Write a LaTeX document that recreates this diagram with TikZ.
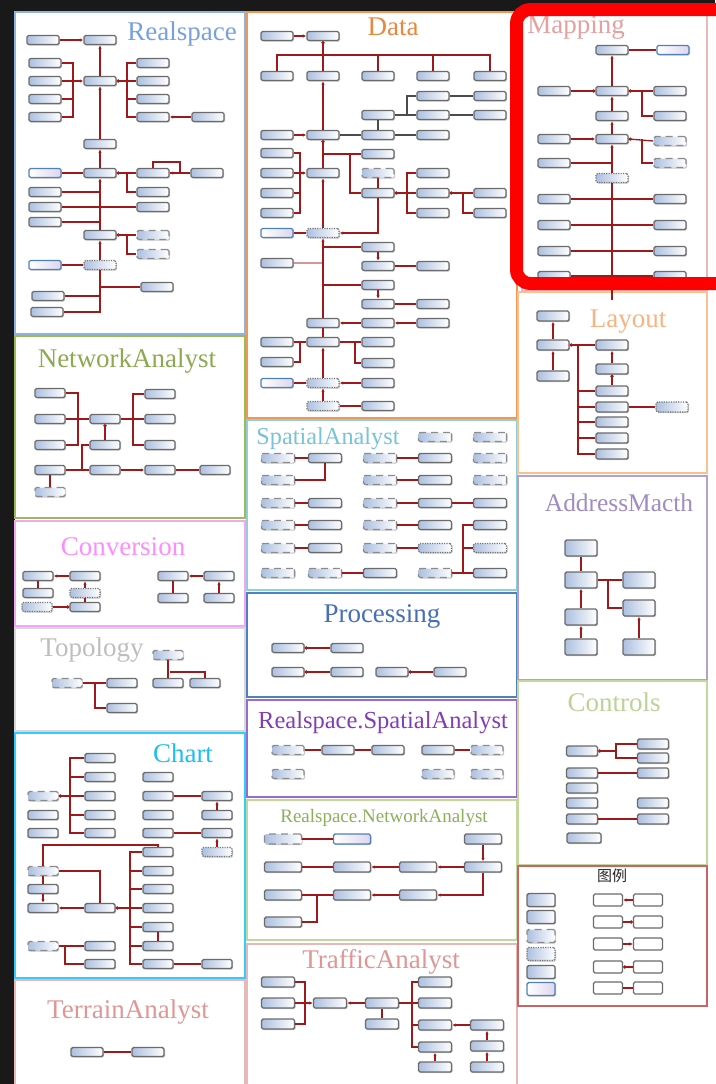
\documentclass[tikz,border=0pt]{standalone}
\usepackage{fontspec}
\setmainfont{Liberation Serif}
\newfontfamily\cjkfont{Noto Sans CJK SC}
\usepackage{tikz}
\usetikzlibrary{arrows.meta,shadows}
\definecolor{ClsBlue}{RGB}{172,192,224}
\definecolor{EnumBlue}{RGB}{79,129,189}
\definecolor{EnumLav}{RGB}{222,214,238}
\definecolor{RelRed}{RGB}{158,26,26}
\definecolor{HiRed}{RGB}{255,0,0}
\definecolor{RsLine}{RGB}{141,179,226}
\definecolor{RsTitle}{RGB}{120,160,225}
\definecolor{DataLine}{RGB}{242,150,80}
\definecolor{DataTitle}{RGB}{236,134,60}
\definecolor{MapLine}{RGB}{230,185,184}
\definecolor{MapTitle}{RGB}{230,160,160}
\definecolor{LayLine}{RGB}{250,192,144}
\definecolor{LayTitle}{RGB}{247,180,130}
\definecolor{AddrLine}{RGB}{178,162,199}
\definecolor{AddrTitle}{RGB}{160,140,190}
\definecolor{CtrlLine}{RGB}{195,214,155}
\definecolor{CtrlTitle}{RGB}{190,210,150}
\definecolor{LegLine}{RGB}{200,100,100}
\definecolor{NetLine}{RGB}{155,187,89}
\definecolor{NetTitle}{RGB}{140,170,80}
\definecolor{ConvLine}{RGB}{245,165,245}
\definecolor{ConvTitle}{RGB}{255,140,255}
\definecolor{TopoLine}{RGB}{215,215,215}
\definecolor{TopoTitle}{RGB}{190,190,190}
\definecolor{ChartLine}{RGB}{51,204,255}
\definecolor{ChartTitle}{RGB}{30,190,240}
\definecolor{TerrLine}{RGB}{230,185,184}
\definecolor{TerrTitle}{RGB}{225,150,150}
\definecolor{SpatLine}{RGB}{146,205,220}
\definecolor{SpatTitle}{RGB}{120,195,215}
\definecolor{ProcLine}{RGB}{79,129,189}
\definecolor{ProcTitle}{RGB}{70,110,185}
\definecolor{RsSpLine}{RGB}{150,110,200}
\definecolor{RsSpTitle}{RGB}{130,60,180}
\definecolor{RsNetLine}{RGB}{195,214,155}
\definecolor{RsNetTitle}{RGB}{140,175,90}
\tikzset{
  panel/.style={line width=1.5pt,fill=white},
  ptitle/.style={anchor=base,inner sep=0pt,font=\fontsize{27}{30}\selectfont},
  cls/.style={draw=black!58,line width=1.4pt,rounded corners=1.5pt,
    left color=ClsBlue,right color=white,minimum width=32pt,minimum height=9pt,
    inner sep=0pt,drop shadow={shadow xshift=1.1pt,shadow yshift=-1.1pt,opacity=.45}},
  clsdash/.style={cls,draw=black!45,dash pattern=on 7pt off 5pt},
  clsdot/.style={cls,draw=black!55,dash pattern=on 1.2pt off 1.2pt},
  clsenum/.style={cls,draw=EnumBlue,left color=white,right color=EnumLav},
  lgbox/.style={draw=black!58,line width=1.3pt,rounded corners=1.5pt,fill=white,
    minimum width=29pt,minimum height=12pt,inner sep=0pt},
  rel/.style={draw=RelRed,line width=1.3pt},
  relk/.style={draw=black!70,line width=1.3pt},
  arr/.style={-{Latex[length=3.5pt,width=3.5pt]}},
  dotb/.style={{Circle[length=3.2pt]}-},
  dote/.style={-{Circle[length=3.2pt]}},
}

\begin{document}
\begin{tikzpicture}[x=1pt,y=-1pt]
\useasboundingbox (0,0) rectangle (715,1084);
\fill[black!90] (0,0) rectangle (715,1084);
\fill[white] (15,12) rectangle (715,1084);

% panels
\draw[panel,draw=RsLine] (15,12) rectangle (245,334);
\draw[panel,draw=NetLine] (15,336) rectangle (245,518);
\draw[panel,draw=ConvLine] (15,521) rectangle (245,626);
\draw[panel,draw=TopoLine] (15,628) rectangle (245,731);
\draw[panel,draw=ChartLine] (15,733) rectangle (245,978);
\draw[panel,draw=TerrLine] (15,980) rectangle (245,1090);
\draw[panel,draw=DataLine] (247,12) rectangle (517,418);
\draw[panel,draw=SpatLine] (247,420) rectangle (517,590);
\draw[panel,draw=ProcLine] (247,593) rectangle (517,697);
\draw[panel,draw=RsSpLine] (247,700) rectangle (517,797);
\draw[panel,draw=RsNetLine] (247,800) rectangle (517,940);
\draw[panel,draw=TerrLine] (247,944) rectangle (517,1090);
\draw[panel,draw=MapLine] (522,12) rectangle (707,291);
\draw[panel,draw=LayLine] (518,292) rectangle (707,473);
\draw[panel,draw=AddrLine] (518,476) rectangle (707,680);
\draw[panel,draw=CtrlLine] (518,681) rectangle (707,865);
\draw[panel,draw=LegLine] (518,866) rectangle (707,1006);

% titles
\node[ptitle,text=RsTitle] (tRs) at (182,40) {Realspace};
\node[ptitle,text=DataTitle] (tData) at (393,35) {Data};
\node[ptitle,text=MapTitle] (tMap) at (576,33) {Mapping};
\node[ptitle,text=LayTitle] (tLay) at (628,327) {Layout};
\node[ptitle,text=AddrTitle,font=\fontsize{25.4}{28}\selectfont] (tAddr) at (619,511) {AddressMacth};
\node[ptitle,text=CtrlTitle] (tCtrl) at (614,711) {Controls};
\node[ptitle,text=NetTitle] (tNet) at (127,367) {NetworkAnalyst};
\node[ptitle,text=ConvTitle] (tConv) at (123,555) {Conversion};
\node[ptitle,text=TopoTitle] (tTopo) at (92,656) {Topology};
\node[ptitle,text=ChartTitle] (tChart) at (183,762) {Chart};
\node[ptitle,text=TerrTitle] (tTerr) at (128,1018) {TerrainAnalyst};
\node[ptitle,text=SpatTitle,font=\fontsize{24.3}{27}\selectfont] (tSpat) at (328,444) {SpatialAnalyst};
\node[ptitle,text=ProcTitle] (tProc) at (382,622) {Processing};
\node[ptitle,text=RsSpTitle,font=\fontsize{24.5}{27}\selectfont] (tRsSp) at (383,728) {Realspace.SpatialAnalyst};
\node[ptitle,text=RsNetTitle,font=\fontsize{19}{22}\selectfont] (tRsNet) at (384,822) {Realspace.NetworkAnalyst};
\node[ptitle,text=TerrTitle] (tTraf) at (381,968) {TrafficAnalyst};
\node[ptitle,font=\cjkfont\fontsize{15}{17}\selectfont,text=black!85] (tLeg) at (612,881) {图例};

% Realspace
\node[cls] (rs1) at (43,40) {};
\node[cls] (rs2) at (100,40) {};
\node[cls] (rs3) at (100,81) {};
\node[cls] (rsa1) at (45,63) {};
\node[cls] (rsa2) at (45,81) {};
\node[cls] (rsa3) at (45,99) {};
\node[cls] (rsa4) at (45,117) {};
\node[cls] (rsb1) at (153,63) {};
\node[cls] (rsb2) at (153,81) {};
\node[cls] (rsb3) at (153,99) {};
\node[cls] (rsb4) at (153,117) {};
\node[cls] (rsc) at (208,117) {};
\node[cls] (rs4) at (100,144) {};
\node[cls] (rs5) at (100,173) {};
\node[clsenum] (rse1) at (45,173) {};
\node[cls] (rsd1) at (153,173) {};
\node[cls] (rsd2) at (207,173) {};
\node[cls] (rsd3) at (153,192) {};
\node[cls] (rsf1) at (45,192) {};
\node[cls] (rsf2) at (45,207) {};
\node[cls] (rsf3) at (45,222) {};
\node[cls] (rsd4) at (153,207) {};
\node[cls] (rs6) at (100,235) {};
\node[clsdash] (rsg1) at (153,235) {};
\node[clsdash] (rsg2) at (153,254) {};
\node[clsdot] (rs7) at (100,265) {};
\node[clsenum] (rse2) at (45,265) {};
\node[cls] (rsh1) at (157,287) {};
\node[cls] (rsh2) at (48,296) {};
\node[cls] (rsh3) at (47,312) {};
\coordinate (rsA) at (73,81);
\coordinate (rsB) at (127,81);
\coordinate (rsD) at (127,173);
\coordinate (rsL) at (180,162);
\coordinate (rsG) at (127,235);
\draw[rel,arr] (rs1.east) -- (rs2.west);
\draw[rel,arr] (rs3.north) -- (rs2.south);
\draw[rel] (rsa1.east) -| (rsA);
\draw[rel] (rsa3.east) -| (rsA);
\draw[rel] (rsa4.east) -| (rsA);
\draw[rel,arr] (rsa2.east) -- (rs3.west);
\draw[rel,dotb] (rs3.east) -- (rsb2.west);
\draw[rel] (rsB) |- (rsb1.west);
\draw[rel] (rsB) |- (rsb3.west);
\draw[rel] (rsB) |- (rsb4.west);
\draw[rel,arr] (rsc.west) -- (rsb4.east);
\draw[rel,arr] (rs4.north) -- (rs3.south);
\draw[rel,arr] (rs5.north) -- (rs4.south);
\draw[rel] (rse1.east) -- (rs5.west);
\draw[rel,dotb] (rs5.east) -- (rsd1.west);
\draw[rel] (rsD) |- (rsd3.west);
\draw[rel,arr] (rsd2.west) -- (rsd1.east);
\draw[rel] (rsd1.north) |- (rsL) |- (rsd1.east);
\draw[rel,arr] (rs6.north) -- (rs5.south);
\draw[rel] (rsf1.east) -- (rsf1 -| rs6);
\draw[rel] (rsf2.east) -- (rsd4.west);
\draw[rel] (rsf3.east) -- (rsf3 -| rs6);
\draw[rel,dotb] (rs6.east) -- (rsg1.west);
\draw[rel] (rsG) |- (rsg2.west);
\draw[rel,arr] (rs7.north) -- (rs6.south);
\draw[rel] (rse2.east) -- (rs7.west);
\draw[rel] (rs7.south) |- (rsh3.east);
\draw[rel] (rsh2.east) -- (rsh2 -| rs7);
\draw[rel] (rsh1.west) -- (rsh1 -| rs7);

% Data
\node[cls] (dt1) at (277,36) {};
\node[cls] (dt2) at (323,36) {};
\node[cls] (dt3a) at (277,76) {};
\node[cls] (dt3b) at (323,76) {};
\node[cls] (dt3c) at (378,76) {};
\node[cls] (dt3d) at (433,76) {};
\node[cls] (dt3e) at (490,76) {};
\node[cls] (dt4) at (323,135) {};
\node[cls] (dt5) at (277,135) {};
\node[cls] (dt6) at (378,135) {};
\node[cls] (dt7) at (378,115) {};
\node[cls] (dt8) at (433,135) {};
\node[cls] (dt9a) at (433,96) {};
\node[cls] (dt9b) at (433,115) {};
\node[cls] (dt9c) at (490,96) {};
\node[cls] (dt9d) at (490,115) {};
\node[cls] (dt10) at (323,173) {};
\node[cls] (dtl1) at (277,153) {};
\node[cls] (dtl2) at (277,173) {};
\node[cls] (dtl3) at (277,193) {};
\node[cls] (dtl4) at (277,213) {};
\node[cls] (dtm1) at (378,154) {};
\node[clsdash] (dtm2) at (378,173) {};
\node[cls] (dtm3) at (378,193) {};
\node[cls] (dtn1) at (433,173) {};
\node[cls] (dtn2) at (433,193) {};
\node[cls] (dtn3) at (433,213) {};
\node[cls] (dto1) at (490,193) {};
\node[cls] (dto2) at (490,213) {};
\node[clsdot] (dt11) at (323,233) {};
\node[clsenum] (dte1) at (277,233) {};
\node[cls] (dtp1) at (378,247) {};
\node[cls] (dtp2) at (378,266) {};
\node[cls] (dtp3) at (433,266) {};
\node[cls] (dtq) at (277,263) {};
\node[cls] (dtp4) at (378,285) {};
\node[cls] (dtp5) at (378,304) {};
\node[cls] (dtp6) at (433,304) {};
\node[cls] (dt12) at (323,323) {};
\node[cls] (dtr1) at (378,323) {};
\node[cls] (dtr2) at (433,323) {};
\node[cls] (dt13) at (323,342) {};
\node[cls] (dts1) at (277,342) {};
\node[cls] (dts2) at (277,362) {};
\node[cls] (dtt1) at (378,342) {};
\node[cls] (dtt2) at (378,363) {};
\node[clsdot] (dt14) at (323,383) {};
\node[clsenum] (dte2) at (277,383) {};
\node[cls] (dtu) at (378,383) {};
\node[clsdot] (dt15) at (323,406) {};
\node[cls] (dtv) at (378,406) {};
\coordinate (dtB) at (300,55);
\coordinate (dtJ) at (407,115);
\coordinate (dtK) at (323,154);
\coordinate (dtK2) at (350,154);
\coordinate (dtL) at (300,173);
\coordinate (dtN) at (407,193);
\coordinate (dtO) at (463,193);
\coordinate (dtS) at (300,342);
\coordinate (dtT) at (355,342);
\draw[rel,arr] (dt1.east) -- (dt2.west);
\draw[rel,dote] (dt3b.north) -- (dt2.south);
\draw[rel] (dt3a.north) |- (dt3e.north |- dtB) -- (dt3e.north);
\draw[rel] (dt3c.north) -- (dt3c.north |- dtB);
\draw[rel] (dt3d.north) -- (dt3d.north |- dtB);
\draw[rel,arr] (dt4.north) -- (dt3b.south);
\draw[rel,arr] (dt5.east) -- (dt4.west);
\draw[relk] (dt4.east) -- (dt6.west);
\draw[relk] (dt6.north) -- (dt7.south);
\draw[relk] (dt6.east) -- (dt8.west);
\draw[relk] (dt7.east) -- (dt9b.west);
\draw[relk] (dtJ) |- (dt9a.west);
\draw[relk] (dt9a.east) -- (dt9c.west);
\draw[relk] (dt9b.east) -- (dt9d.west);
\draw[rel,dote] (dt10.north) -- (dt4.south);
\draw[rel] (dtK) -- (dtm1.west);
\draw[rel] (dtK2) |- (dtm3.west);
\draw[rel] (dtl1.east) -| (dtL);
\draw[rel] (dtl3.east) -| (dtL);
\draw[rel] (dtl4.east) -| (dtL);
\draw[rel,arr] (dtl2.east) -- (dt10.west);
\draw[rel] (dtm2.south) -- (dtm3.north);
\draw[rel,arr] (dtm3.south) |- (dt11.east);
\draw[rel,dote] (dtn2.west) -- (dtm3.east);
\draw[rel] (dtn1.west) -| (dtN);
\draw[rel] (dtn3.west) -| (dtN);
\draw[rel,dotb] (dtn2.east) -- (dto1.west);
\draw[rel] (dtO) |- (dto2.west);
\draw[rel,arr] (dt11.north) -- (dt10.south);
\draw[rel] (dte1.east) -- (dt11.west);
\draw[rel,arr] (dt12.north) -- (dt11.south);
\draw[rel] (dtp1.west) -- (dtp1 -| dt11);
\draw[rel,arr] (dtp1.south) -- (dtp2.north);
\draw[rel] (dtp3.west) -- (dtp2.east);
\draw[rel,opacity=.45] (dtq.east) -- (dtq -| dt11);
\draw[rel] (dtp4.west) -- (dtp4 -| dt11);
\draw[rel,arr] (dtp4.south) -- (dtp5.north);
\draw[rel] (dtp6.west) -- (dtp5.east);
\draw[rel,arr] (dtr1.west) -- (dt12.east);
\draw[rel,arr] (dtr2.west) -- (dtr1.east);
\draw[rel] (dt13.north) -- (dt12.south);
\draw[rel] (dts1.east) -- (dt13.west);
\draw[rel] (dts2.east) -| (dtS);
\draw[rel] (dt13.east) -- (dtt1.west);
\draw[rel] (dtT) |- (dtt2.west);
\draw[rel,arr] (dt14.north) -- (dt13.south);
\draw[rel] (dte2.east) -- (dt14.west);
\draw[rel,arr] (dtu.west) -- (dt14.east);
\draw[rel,arr] (dt15.north) -- (dt14.south);
\draw[rel] (dtv.west) -- (dt15.east);

% Mapping
\node[cls] (mp1) at (612,50) {};
\node[clsenum] (mpe) at (673,50) {};
\node[cls] (mp2) at (612,91) {};
\node[cls] (mpa) at (554,91) {};
\node[cls] (mpb1) at (670,91) {};
\node[cls] (mpb2) at (670,116) {};
\node[cls] (mp3) at (612,116) {};
\node[cls] (mp4) at (612,139) {};
\node[cls] (mpc) at (554,139) {};
\node[clsdash] (mpd1) at (670,141) {};
\node[clsdash] (mpd2) at (670,163) {};
\node[cls] (mpf) at (554,163) {};
\node[clsdot] (mp5) at (612,178) {};
\node[cls] (mpg1) at (554,199) {};
\node[cls] (mph1) at (670,199) {};
\node[cls] (mpg2) at (554,225) {};
\node[cls] (mph2) at (670,225) {};
\node[cls] (mpg3) at (554,251) {};
\node[cls] (mph3) at (670,251) {};
\node[cls] (mpg4) at (554,276) {};
\node[cls] (mph4) at (670,276) {};
\coordinate (mpB) at (642,91);
\coordinate (mpD) at (642,139);
\coordinate (mpEnd) at (612,300);
\draw[rel] (mp1.east) -- (mpe.west);
\draw[rel,arr] (mp2.north) -- (mp1.south);
\draw[rel,dotb] (mp2.west) -- (mpa.east);
\draw[rel,dotb] (mp2.east) -- (mpb1.west);
\draw[rel] (mpB) |- (mpb2.west);
\draw[rel,arr] (mp3.north) -- (mp2.south);
\draw[rel,arr] (mp4.north) -- (mp3.south);
\draw[rel,arr] (mpc.east) -- (mp4.west);
\draw[rel,dotb] (mp4.east) -- (mpd1.west);
\draw[rel] (mpD) |- (mpd2.west);
\draw[rel] (mpf.east) -- (mpf -| mp4);
\draw[rel,arr] (mp5.north) -- (mp4.south);
\draw[rel] (mp5.south) -- (mpEnd);
\draw[rel] (mpg1.east) -- (mph1.west);
\draw[rel] (mpg2.east) -- (mph2.west);
\draw[rel] (mpg3.east) -- (mph3.west);
\draw[rel] (mpg4.east) -- (mph4.west);

% Layout
\begin{scope}[cls/.append style={minimum height=10pt}]
\node[cls] (ly1) at (553,316) {};
\node[cls] (ly2) at (553,345) {};
\node[cls] (ly3) at (553,376) {};
\node[cls] (ly4) at (612,345) {};
\node[cls] (ly5) at (612,369) {};
\node[cls] (ly6) at (612,391) {};
\node[cls] (ly7) at (612,407) {};
\node[cls] (ly8) at (612,422) {};
\node[cls] (ly9) at (612,438) {};
\node[cls] (ly10) at (612,454) {};
\node[clsdot] (lyd) at (672,407) {};
\end{scope}
\coordinate (lyB) at (578,345);
\draw[rel,arr] (ly2.north) -- (ly1.south);
\draw[rel,arr] (ly3.north) -- (ly2.south);
\draw[rel,dotb] (ly2.east) -- (ly4.west);
\draw[rel] (lyB) |- (ly6.west);
\draw[rel] (lyB) |- (ly7.west);
\draw[rel] (lyB) |- (ly8.west);
\draw[rel] (lyB) |- (ly9.west);
\draw[rel] (lyB) |- (ly10.west);
\draw[rel,arr] (ly5.north) -- (ly4.south);
\draw[rel,dote] (ly6.north) -- (ly5.south);
\draw[rel] (ly7.east) -- (lyd.west);

% AddressMacth
\begin{scope}[cls/.append style={minimum height=16pt}]
\node[cls] (ad1) at (581,548) {};
\node[cls] (ad2) at (581,580) {};
\node[cls] (ad3) at (581,617) {};
\node[cls] (ad4) at (581,647) {};
\node[cls] (ad5) at (639,580) {};
\node[cls] (ad6) at (639,608) {};
\node[cls] (ad7) at (639,647) {};
\end{scope}
\coordinate (adB) at (608,580);
\draw[rel] (ad2.north) -- (ad1.south);
\draw[rel,arr] (ad3.north) -- (ad2.south);
\draw[rel,arr] (ad4.north) -- (ad3.south);
\draw[rel] (ad2.east) -- (ad5.west);
\draw[rel] (adB) |- (ad6.west);
\draw[rel,arr] (ad7.north) -- (ad6.south);

% Controls
\begin{scope}[cls/.append style={minimum width=31pt,minimum height=10pt}]
\node[cls] (ct1) at (582,751) {};
\node[cls] (ct2) at (653,744) {};
\node[cls] (ct3) at (653,758) {};
\node[cls] (ct4) at (582,773) {};
\node[cls] (ct5) at (653,773) {};
\node[cls] (ct6) at (582,788) {};
\node[cls] (ct7) at (582,803) {};
\node[cls] (ct8) at (653,803) {};
\node[cls] (ct9) at (582,819) {};
\node[cls] (ct10) at (653,819) {};
\node[cls,minimum width=34pt] (ct11) at (584,838) {};
\end{scope}
\coordinate (ctB) at (616,751);
\draw[rel,dotb,line width=1.8pt] (ct1.east) -- (ctB);
\draw[rel] (ctB) |- (ct2.west);
\draw[rel] (ctB) |- (ct3.west);
\draw[rel] (ct4.east) -- (ct5.west);
\draw[rel] (ct9.east) -- (ct10.west);

% legend
\begin{scope}[cls/.append style={minimum width=28pt,minimum height=13pt}]
\node[cls] (lgA1) at (541,900) {};
\node[cls] (lgA2) at (541,917) {};
\node[clsdash] (lgA3) at (541,936) {};
\node[clsdot] (lgA4) at (541,954) {};
\node[cls] (lgA5) at (541,972) {};
\node[clsenum] (lgA6) at (541,989) {};
\end{scope}
\node[lgbox] (lgB1) at (608,900) {};
\node[lgbox] (lgC1) at (648,900) {};
\node[lgbox] (lgB2) at (608,922) {};
\node[lgbox] (lgC2) at (648,922) {};
\node[lgbox] (lgB3) at (608,944) {};
\node[lgbox] (lgC3) at (648,944) {};
\node[lgbox] (lgB4) at (608,967) {};
\node[lgbox] (lgC4) at (648,967) {};
\node[lgbox] (lgB5) at (608,988) {};
\node[lgbox] (lgC5) at (648,988) {};
\draw[rel,arr] (lgC1.west) -- (lgB1.east);
\draw[rel,dote] (lgB2.east) -- (lgC2.west);
\draw[rel,arr] (lgB3.east) -- (lgC3.west);
\draw[rel,dote] (lgC4.west) -- (lgB4.east);
\draw[rel] (lgB5.east) -- (lgC5.west);

% NetworkAnalyst
\begin{scope}[cls/.append style={minimum width=30pt}]
\node[cls] (na1) at (105,419) {};
\node[cls] (na2) at (105,445) {};
\node[cls] (naa1) at (50,393) {};
\node[cls] (naa2) at (50,419) {};
\node[cls] (naa3) at (50,445) {};
\node[cls] (nab1) at (160,394) {};
\node[cls] (nab2) at (160,419) {};
\node[cls] (nab3) at (160,445) {};
\node[cls] (na3) at (50,470) {};
\node[cls] (na4) at (105,470) {};
\node[cls] (na5) at (160,470) {};
\node[cls] (na6) at (215,470) {};
\node[clsdash] (na7) at (50,492) {};
\end{scope}
\coordinate (naA) at (78,419);
\coordinate (naB) at (133,419);
\coordinate (naC) at (82,470);
\draw[rel] (naa1.east) -| (naA);
\draw[rel] (naa3.east) -| (naA);
\draw[rel] (naa2.east) -- (na1.west);
\draw[rel] (na1.east) -- (nab2.west);
\draw[rel] (naB) |- (nab1.west);
\draw[rel] (naB) |- (nab3.west);
\draw[rel,dote] (na2.north) -- (na1.south);
\draw[rel] (na3.east) -- (na4.west);
\draw[rel] (naC) |- (na2.west);
\draw[rel,arr] (na4.east) -- (na5.west);
\draw[rel] (na5.east) -- (na6.west);
\draw[rel] (na7.north) -- (na3.south);

% Conversion
\begin{scope}[cls/.append style={minimum width=30pt}]
\node[cls] (cv1) at (38,576) {};
\node[cls] (cv2) at (85,576) {};
\node[cls] (cv3) at (38,593) {};
\node[clsdot] (cv4) at (85,593) {};
\node[cls] (cv5) at (85,607) {};
\node[clsdot] (cv6) at (37,607) {};
\node[cls] (cv7) at (173,576) {};
\node[cls] (cv8) at (219,576) {};
\node[cls] (cv9) at (173,598) {};
\node[cls] (cv10) at (219,598) {};
\end{scope}
\draw[rel,arr] (cv2.west) -- (cv1.east);
\draw[rel] (cv3.north) -- (cv1.south);
\draw[rel,arr] (cv4.north) -- (cv2.south);
\draw[rel] (cv5.north) -- (cv4.south);
\draw[rel,dote] (cv6.east) -- (cv5.west);
\draw[rel,arr] (cv8.west) -- (cv7.east);
\draw[rel] (cv9.north) -- (cv7.south);
\draw[rel,arr] (cv10.north) -- (cv8.south);

% Topology
\begin{scope}[cls/.append style={minimum width=30pt}]
\node[clsdash] (tp1) at (67,683) {};
\node[cls] (tp2) at (122,683) {};
\node[cls] (tp3) at (122,708) {};
\node[clsdash] (tp4) at (168,655) {};
\node[cls] (tp5) at (168,683) {};
\node[cls] (tp6) at (205,683) {};
\end{scope}
\coordinate (tpB) at (95,683);
\coordinate (tpC) at (170,672);
\draw[rel] (tp1.east) -- (tp2.west);
\draw[rel] (tpB) |- (tp3.west);
\draw[rel] (tp4.south) -- (tp5.north);
\draw[rel] (tpC) -| (tp6.north);

% Chart
\begin{scope}[cls/.append style={minimum width=30pt}]
\node[clsdash] (ch1) at (43,796) {};
\node[cls] (ch2) at (100,758) {};
\node[cls] (ch3) at (100,777) {};
\node[cls] (ch4) at (100,796) {};
\node[cls] (ch5) at (100,815) {};
\node[cls] (ch6) at (100,833) {};
\node[cls] (ch7) at (43,815) {};
\node[cls] (ch8) at (43,833) {};
\node[cls] (ch9) at (158,777) {};
\node[cls] (ch10) at (158,796) {};
\node[cls] (ch11) at (217,796) {};
\node[cls] (ch12) at (158,815) {};
\node[cls] (ch13) at (217,815) {};
\node[cls] (ch14) at (158,833) {};
\node[cls] (ch15) at (217,833) {};
\node[clsdot] (ch16) at (217,852) {};
\node[clsdash] (ch17) at (43,871) {};
\node[cls] (ch18) at (43,889) {};
\node[cls] (ch19) at (43,908) {};
\node[cls] (ch20) at (100,908) {};
\node[cls] (ch21) at (158,852) {};
\node[cls] (ch22) at (158,871) {};
\node[cls] (ch23) at (158,889) {};
\node[cls] (ch24) at (158,908) {};
\node[cls] (ch25) at (158,927) {};
\node[cls] (ch26) at (158,946) {};
\node[cls] (ch27) at (158,964) {};
\node[cls] (ch28) at (217,964) {};
\node[clsdash] (ch29) at (43,946) {};
\node[cls] (ch30) at (100,946) {};
\node[cls] (ch31) at (100,964) {};
\end{scope}
\coordinate (chA) at (70,796);
\coordinate (chB) at (130,908);
\coordinate (chC) at (65,946);
\coordinate (chL) at (43,845);
\draw[rel,dotb] (ch1.east) -- (ch4.west);
\draw[rel] (chA) |- (ch2.west);
\draw[rel] (chA) |- (ch3.west);
\draw[rel] (chA) |- (ch5.west);
\draw[rel] (chA) |- (ch6.west);
\draw[rel] (ch10.east) -- (ch11.west);
\draw[rel,arr] (ch13.north) -- (ch11.south);
\draw[rel] (ch14.east) -- (ch15.west);
\draw[rel,arr] (ch16.north) -- (ch15.south);
\draw[rel] (ch17.south) -- (ch18.north);
\draw[rel,arr] (ch18.south) -- (ch19.north);
\draw[rel,arr] (ch20.west) -- (ch19.east);
\draw[rel] (ch17.east) -| (ch20.north);
\draw[rel] (ch17.north) -- (chL) -- (chL -| ch21) -- (ch21.north);
\draw[rel,dotb,line width=1.6pt] (ch20.east) -- (ch24.west);
\draw[rel] (chB) |- (ch21.west);
\draw[rel] (chB) |- (ch22.west);
\draw[rel] (chB) |- (ch23.west);
\draw[rel] (chB) |- (ch25.west);
\draw[rel] (chB) |- (ch26.west);
\draw[rel] (chB) |- (ch27.west);
\draw[rel] (ch25.south) -- (ch26.north);
\draw[rel] (ch27.east) -- (ch28.west);
\draw[rel] (ch29.east) -- (ch30.west);
\draw[rel] (chC) |- (ch31.west);

% TerrainAnalyst
\node[cls] (te1) at (87,1052) {};
\node[cls] (te2) at (148,1052) {};
\draw[rel] (te1.east) -- (te2.west);

% SpatialAnalyst
\begin{scope}[cls/.append style={minimum width=33pt}]
\node[clsdash] (sa01) at (435,437) {};
\node[clsdash] (sa02) at (490,437) {};
\node[clsdash] (sa11) at (278,458) {};
\node[cls] (sa12) at (325,458) {};
\node[clsdash] (sa13) at (380,458) {};
\node[cls] (sa14) at (435,458) {};
\node[clsdash] (sa15) at (490,458) {};
\node[clsdash] (sa21) at (278,480) {};
\node[clsdash] (sa23) at (380,480) {};
\node[cls] (sa24) at (435,480) {};
\node[clsdash] (sa25) at (490,480) {};
\node[clsdash] (sa31) at (278,503) {};
\node[cls] (sa32) at (325,503) {};
\node[clsdash] (sa33) at (380,503) {};
\node[cls] (sa34) at (435,503) {};
\node[cls] (sa35) at (490,503) {};
\node[clsdash] (sa41) at (278,525) {};
\node[cls] (sa42) at (325,525) {};
\node[clsdash] (sa43) at (380,525) {};
\node[cls] (sa44) at (435,525) {};
\node[cls] (sa45) at (490,525) {};
\node[clsdash] (sa51) at (278,548) {};
\node[cls] (sa52) at (325,548) {};
\node[clsdash] (sa53) at (380,548) {};
\node[clsdot] (sa54) at (435,548) {};
\node[clsdot] (sa55) at (490,548) {};
\node[clsdash] (sa61) at (278,573) {};
\node[clsdash] (sa62) at (325,573) {};
\node[cls] (sa63) at (380,573) {};
\node[clsdash] (sa64) at (435,573) {};
\node[cls] (sa65) at (490,573) {};
\end{scope}
\coordinate (saB) at (463,573);
\draw[rel] (sa11.east) -- (sa12.west);
\draw[rel] (sa21.east) -| (sa12.south);
\draw[rel] (sa13.east) -- (sa14.west);
\draw[rel] (sa23.east) -- (sa24.west);
\draw[rel] (sa31.east) -- (sa32.west);
\draw[rel] (sa33.east) -- (sa34.west);
\draw[rel] (sa34.east) -- (sa35.west);
\draw[rel] (sa41.east) -- (sa42.west);
\draw[rel] (sa43.east) -- (sa44.west);
\draw[rel] (sa51.east) -- (sa52.west);
\draw[rel] (sa53.east) -- (sa54.west);
\draw[rel] (sa62.east) -- (sa63.west);
\draw[rel] (sa64.east) -- (sa65.west);
\draw[rel] (saB) |- (sa45.west);
\draw[rel] (saB) |- (sa55.west);

% Processing
\node[cls] (pr1) at (288,648) {};
\node[cls] (pr2) at (347,648) {};
\node[cls] (pr3) at (288,672) {};
\node[cls] (pr4) at (347,672) {};
\node[cls] (pr5) at (392,672) {};
\node[cls] (pr6) at (450,672) {};
\draw[rel,dotb] (pr1.east) -- (pr2.west);
\draw[rel,dotb] (pr3.east) -- (pr4.west);
\draw[rel,dotb] (pr5.east) -- (pr6.west);

% Realspace.SpatialAnalyst
\node[clsdash] (rp1) at (288,750) {};
\node[cls] (rp2) at (338,750) {};
\node[cls] (rp3) at (388,750) {};
\node[cls] (rp4) at (438,750) {};
\node[clsdash] (rp5) at (487,750) {};
\node[clsdash] (rp6) at (288,774) {};
\node[clsdash] (rp7) at (438,774) {};
\node[clsdash] (rp8) at (487,774) {};
\draw[rel] (rp1.east) -- (rp2.west);
\draw[rel] (rp2.east) -- (rp3.west);
\draw[rel] (rp4.east) -- (rp5.west);

% Realspace.NetworkAnalyst
\begin{scope}[cls/.append style={minimum width=37pt,minimum height=10pt}]
\node[clsdash] (rn1) at (283,839) {};
\node[clsenum] (rn2) at (352,839) {};
\node[cls] (rn3) at (483,839) {};
\node[cls] (rn4) at (283,867) {};
\node[cls] (rn5) at (352,867) {};
\node[cls] (rn6) at (418,867) {};
\node[cls] (rn7) at (483,867) {};
\node[cls] (rn8) at (283,895) {};
\node[cls] (rn9) at (352,895) {};
\node[cls] (rn10) at (418,895) {};
\node[cls] (rn11) at (283,922) {};
\end{scope}
\coordinate (rnB) at (317,895);
\draw[rel] (rn1.east) -- (rn2.west);
\draw[rel,arr] (rn3.south) -- (rn7.north);
\draw[rel] (rn4.east) -- (rn5.west);
\draw[rel,arr] (rn6.west) -- (rn5.east);
\draw[rel,arr] (rn7.west) -- (rn6.east);
\draw[rel] (rn8.east) -- (rn9.west);
\draw[rel] (rnB) |- (rn11.east);
\draw[rel,arr] (rn10.west) -- (rn9.east);
\draw[rel,arr] (rn7.south) |- (rn10.east);

% TrafficAnalyst
\begin{scope}[cls/.append style={minimum width=33pt,minimum height=10pt}]
\node[cls] (tf1) at (278,982) {};
\node[cls] (tf2) at (278,1003) {};
\node[cls] (tf3) at (278,1024) {};
\node[cls] (tf4) at (330,1003) {};
\node[cls] (tf5) at (382,1003) {};
\node[cls] (tf6) at (382,1024) {};
\node[cls] (tf7) at (435,982) {};
\node[cls] (tf8) at (435,1003) {};
\node[cls] (tf9) at (435,1025) {};
\node[cls] (tf10) at (435,1047) {};
\node[cls] (tf11) at (435,1067) {};
\node[cls] (tf12) at (487,1025) {};
\node[cls] (tf13) at (487,1046) {};
\node[cls] (tf14) at (487,1067) {};
\end{scope}
\coordinate (tfB) at (305,1003);
\coordinate (tfC) at (412,1003);
\draw[rel] (tf1.east) -| (tfB);
\draw[rel] (tf3.east) -| (tfB);
\draw[rel,arr] (tf2.east) -- (tf4.west);
\draw[rel,arr] (tf5.west) -- (tf4.east);
\draw[rel] (tf6.north) -- (tf5.south);
\draw[rel] (tf5.east) -- (tf8.west);
\draw[rel] (tfC) |- (tf7.west);
\draw[rel] (tfC) |- (tf9.west);
\draw[rel] (tfC) |- (tf10.west);
\draw[rel,arr] (tf11.north) -- (tf10.south);
\draw[rel,arr] (tf12.west) -- (tf9.east);
\draw[rel,arr] (tf13.north) -- (tf12.south);
\draw[rel,arr] (tf14.north) -- (tf13.south);

% highlight frame
\draw[draw=HiRed,line width=13pt,rounded corners=14pt] (516.5,9.5) rectangle (740,283.5);
\end{tikzpicture}
\end{document}
